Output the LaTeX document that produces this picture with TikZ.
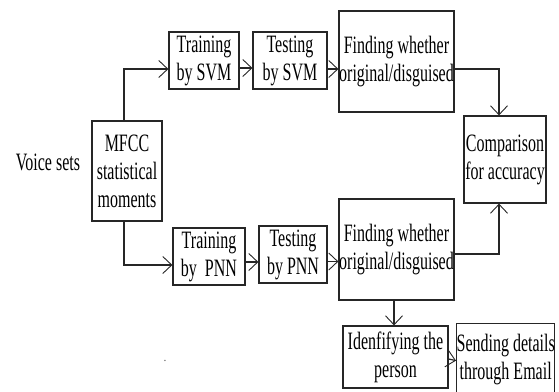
\documentclass[tikz,border=0pt]{standalone}
\usepackage{fontspec}
\setmainfont{Liberation Serif}[FakeStretch=0.64]
\usetikzlibrary{arrows.meta,calc}
\tikzset{
  box/.style={draw=black!85, line width=1.2pt, inner sep=0pt, align=center,
    font=\fontsize{25}{28}\selectfont},
  conn/.style={draw=black!85, line width=1.2pt,
    -{Straight Barb[length=9pt,width=17pt,line width=0.9pt]}},
  lbl/.style={inner sep=0pt, font=\fontsize{25}{28}\selectfont}
}
\begin{document}
\begin{tikzpicture}[x=1pt,y=-1pt]
\useasboundingbox (0,0) rectangle (559,391);
\node[box, minimum width=70pt, minimum height=57pt] (trsvm) at (204,60.5) {Training\\by SVM};
\node[box, minimum width=74pt, minimum height=57pt] (tesvm) at (290,60.5) {Testing\\by SVM};
\node[box, minimum width=115pt, minimum height=101pt] (find1) at (396.5,61.5) {Finding whether\\original/disguised};
\node[box, minimum width=82pt, minimum height=87pt] (comp) at (505,159.5) {Comparison\\for accuracy};
\node[box, minimum width=70pt, minimum height=100pt] (mfcc) at (127,171) {MFCC\\statistical\\moments};
\node[lbl] (voice) at (48,162) {Voice sets};
\node[box, minimum width=72pt, minimum height=57pt] (trpnn) at (209,256.5) {Training\\by~~PNN};
\node[box, minimum width=68pt, minimum height=57pt] (tepnn) at (293,254.5) {Testing\\by~PNN};
\node[box, minimum width=115pt, minimum height=101pt] (find2) at (396.5,249.5) {Finding whether\\original/disguised};
\node[box, minimum width=105pt, minimum height=62pt] (ident) at (395.5,357) {Idenfifying the\\person};
\node[box, minimum width=98pt, minimum height=72pt, anchor=north west] (send) at (456,323) {Sending details\\through Email};
\node[inner sep=0pt, font=\fontsize{12}{12}\selectfont] (dot) at (165,361) {.};

\draw[conn] ($(mfcc.north)+(-3,0)$) |- ($(trsvm.west)+(0,8.5)$);
\draw[conn] ($(trsvm.east)+(0,7.5)$) -- ($(tesvm.west)+(0,7.5)$);
\draw[conn] ($(tesvm.east)+(0,8.5)$) -- ($(find1.west)+(0,7.5)$);
\draw[conn] ($(find1.east)+(0,7.5)$) -| ($(comp.north)+(-6,0)$);
\draw[conn] ($(mfcc.south)+(-3,0)$) |- ($(trpnn.west)+(0,8.5)$);
\draw[conn] ($(trpnn.east)+(0,5.5)$) -- ($(tepnn.west)+(0,7.5)$);
\draw[conn] ($(tepnn.east)+(0,7)$) -- ($(find2.west)+(0,12)$);
\draw[conn] ($(find2.east)+(0,4.5)$) -| ($(comp.south)+(-6,0)$);
\draw[conn] ($(find2.south)+(-2.5,0)$) -- ($(ident.north)+(-1.5,0)$);
\draw[conn] ($(ident.east)+(0,2)$) -- ($(send.west)+(0,1)$);
\end{tikzpicture}
\end{document}
